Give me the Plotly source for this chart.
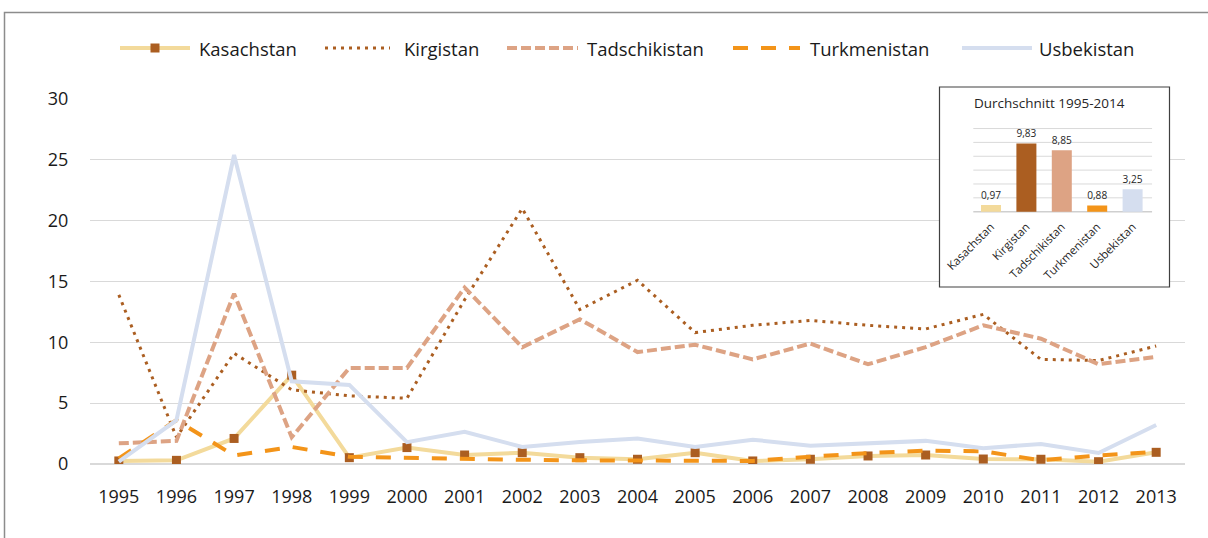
import plotly.graph_objects as go

# ---------------- data ----------------
years = ["1995", "1996", "1997", "1998", "1999", "2000", "2001", "2002", "2003", "2004",
         "2005", "2006", "2007", "2008", "2009", "2010", "2011", "2012", "2013"]

kasachstan = [0.25, 0.3, 2.1, 7.3, 0.52, 1.35, 0.74, 0.93, 0.52, 0.39,
              0.93, 0.25, 0.39, 0.66, 0.74, 0.41, 0.39, 0.19, 0.96]
kirgistan = [13.9, 2.2, 9.1, 6.1, 5.6, 5.4, 13.5, 21.0, 12.7, 15.1,
             10.8, 11.4, 11.8, 11.4, 11.1, 12.3, 8.6, 8.5, 9.7]
tadschikistan = [1.7, 1.9, 14.0, 2.2, 7.9, 7.9, 14.5, 9.6, 11.9, 9.2,
                 9.8, 8.6, 9.9, 8.2, 9.6, 11.4, 10.3, 8.2, 8.8]
turkmenistan = [0.45, 3.6, 0.7, 1.4, 0.6, 0.5, 0.45, 0.35, 0.3, 0.3,
                0.3, 0.25, 0.6, 0.9, 1.1, 1.05, 0.3, 0.7, 1.0]
usbekistan = [0.2, 3.6, 25.4, 6.8, 6.5, 1.8, 2.65, 1.4, 1.8, 2.1,
              1.4, 2.0, 1.5, 1.7, 1.9, 1.3, 1.65, 0.9, 3.2]

countries = ["Kasachstan", "Kirgistan", "Tadschikistan", "Turkmenistan", "Usbekistan"]
averages = [0.97, 9.83, 8.85, 0.88, 3.25]
inset_title = "Durchschnitt 1995-2014"
y_ticks = [0, 5, 10, 15, 20, 25, 30]
inset_grid = [2, 4, 6, 8, 10, 12]

# ---------------- styles ----------------
C_KAS = "#F3DA9B"
C_KAS_M = "#AB5E21"
C_KIR = "#AB5E21"
C_TAD = "#DDA384"
C_TUR = "#F39419"
C_USB = "#D5DEEF"
bar_colors = [C_KAS, C_KIR, C_TAD, C_TUR, C_USB]
GRID = "#D9D9D9"
TXT = "#1a1a1a"
FONT = "Open Sans"

W_PX, H_PX = 1208, 538
L, R, T, B = 90, 23, 80, 74
PW = W_PX - L - R
PH = H_PX - T - B


def px(x):
    return (x - L) / PW


def py(y):
    return (H_PX - B - y) / PH


fig = go.Figure()

fig.add_trace(go.Scatter(x=years, y=kasachstan, name="Kasachstan", mode="lines+markers",
                         line=dict(color=C_KAS, width=4),
                         marker=dict(symbol="square", size=9, color=C_KAS_M)))
fig.add_trace(go.Scatter(x=years, y=kirgistan, name="Kirgistan", mode="lines",
                         line=dict(color=C_KIR, width=3, dash="3px,5px")))
fig.add_trace(go.Scatter(x=years, y=tadschikistan, name="Tadschikistan", mode="lines",
                         line=dict(color=C_TAD, width=4, dash="10px,4px")))
fig.add_trace(go.Scatter(x=years, y=turkmenistan, name="Turkmenistan", mode="lines",
                         line=dict(color=C_TUR, width=4, dash="15px,13px")))
fig.add_trace(go.Scatter(x=years, y=usbekistan, name="Usbekistan", mode="lines",
                         line=dict(color=C_USB, width=4)))

# inset bar chart
avg_text = [f"{v:.2f}".replace(".", ",") for v in averages]
fig.add_trace(go.Bar(x=countries, y=averages, xaxis="x2", yaxis="y2",
                     marker=dict(color=bar_colors, line=dict(width=0)),
                     width=0.565, text=avg_text, textposition="outside",
                     textfont=dict(size=12.5, color="#262626", family=FONT),
                     cliponaxis=False, showlegend=False))

shapes = []
# inset gridlines
for g in inset_grid:
    shapes.append(dict(type="line", xref="x2", yref="y2", x0=-0.5, x1=4.55, y0=g, y1=g,
                       line=dict(color=GRID, width=1), layer="below"))
shapes.append(dict(type="line", xref="x2", yref="y2", x0=-0.5, x1=4.55, y0=0, y1=0,
                   line=dict(color="#CFCFCF", width=1.5), layer="below"))
# inset box
shapes.append(dict(type="rect", xref="paper", yref="paper",
                   x0=px(939.5), x1=px(1169.5), y0=py(287), y1=py(87),
                   line=dict(color="#404040", width=1.2), layer="above"))
# outer frame (top and left)
shapes.append(dict(type="rect", xref="paper", yref="paper",
                   x0=px(4.5), x1=px(1260), y0=py(620), y1=py(12.5),
                   line=dict(color="#8C8C8C", width=1.5), layer="above"))

# custom legend
LEG_Y = py(48)
leg = [
    ("Kasachstan", 120, 190, 197, C_KAS, 4, "solid"),
    ("Kirgistan", 325, 390, 402, C_KIR, 3, "3px,5px"),
    ("Tadschikistan", 507, 578, 585, C_TAD, 4, "10px,4px"),
    ("Turkmenistan", 733, 800, 808, C_TUR, 4, "15px,13px"),
    ("Usbekistan", 962, 1032, 1037, C_USB, 4, "solid"),
]
annotations = []
for name, a, b, t, col, w, d in leg:
    shapes.append(dict(type="line", xref="paper", yref="paper", x0=px(a), x1=px(b),
                       y0=LEG_Y, y1=LEG_Y, line=dict(color=col, width=w, dash=d)))
    annotations.append(dict(text=name, xref="paper", yref="paper", x=px(t), y=LEG_Y,
                            xanchor="left", yanchor="middle", showarrow=False,
                            font=dict(size=18.5, color=TXT, family=FONT)))
# legend marker for Kasachstan
shapes.append(dict(type="rect", xref="paper", yref="paper",
                   x0=px(155 - 4.5), x1=px(155 + 4.5), y0=LEG_Y - 4.5 / PH, y1=LEG_Y + 4.5 / PH,
                   fillcolor=C_KAS_M, line=dict(width=0)))

annotations.append(dict(text=inset_title, xref="paper", yref="paper", x=px(1049), y=py(103),
                        xanchor="center", yanchor="middle", showarrow=False,
                        font=dict(size=13.5, color="#262626", family=FONT)))

# inset axis ranges in pixel terms
c0, step = 991.0, 35.4
base_y, unit = 211.7, 6.93
x2_range = [-(c0 - 939.5) / step, 4 + (1169.5 - (c0 + 4 * step)) / step]
y2_range = [-(287 - base_y) / unit, (base_y - 87) / unit]

fig.update_layout(
    width=W_PX, height=H_PX,
    margin=dict(l=L, r=R, t=T, b=B),
    paper_bgcolor="white", plot_bgcolor="white",
    font=dict(family=FONT, color=TXT, size=18),
    showlegend=False,
    xaxis=dict(type="category", categoryorder="array", categoryarray=years,
               range=[-0.5, len(years) - 0.5], showgrid=False, zeroline=False,
               showline=False, ticks="outside", ticklen=16, tickcolor="rgba(0,0,0,0)",
               tickfont=dict(size=18, color=TXT)),
    yaxis=dict(domain=[0, py(99)], range=[0, 30], tickvals=y_ticks,
               showgrid=True, gridcolor=GRID, gridwidth=1,
               zeroline=True, zerolinecolor=GRID, zerolinewidth=2,
               showline=False, ticks="outside", ticklen=17, tickcolor="rgba(0,0,0,0)",
               tickfont=dict(size=18, color=TXT)),
    xaxis2=dict(domain=[px(939.5), px(1169.5)], anchor="free", position=py(base_y),
                type="category", categoryorder="array", categoryarray=countries,
                range=x2_range, showgrid=False, zeroline=False, showline=False,
                tickangle=-45, ticks="outside", ticklen=3, tickcolor="rgba(0,0,0,0)",
                tickfont=dict(size=11.5, color="#262626")),
    yaxis2=dict(domain=[py(287), py(87)], anchor="x2", range=y2_range,
                showgrid=False, zeroline=False, showline=False, showticklabels=False),
    shapes=shapes,
    annotations=annotations,
)

fig.write_html("out.html", config={"displayModeBar": False},
               post_script="document.body.style.margin='0';")
